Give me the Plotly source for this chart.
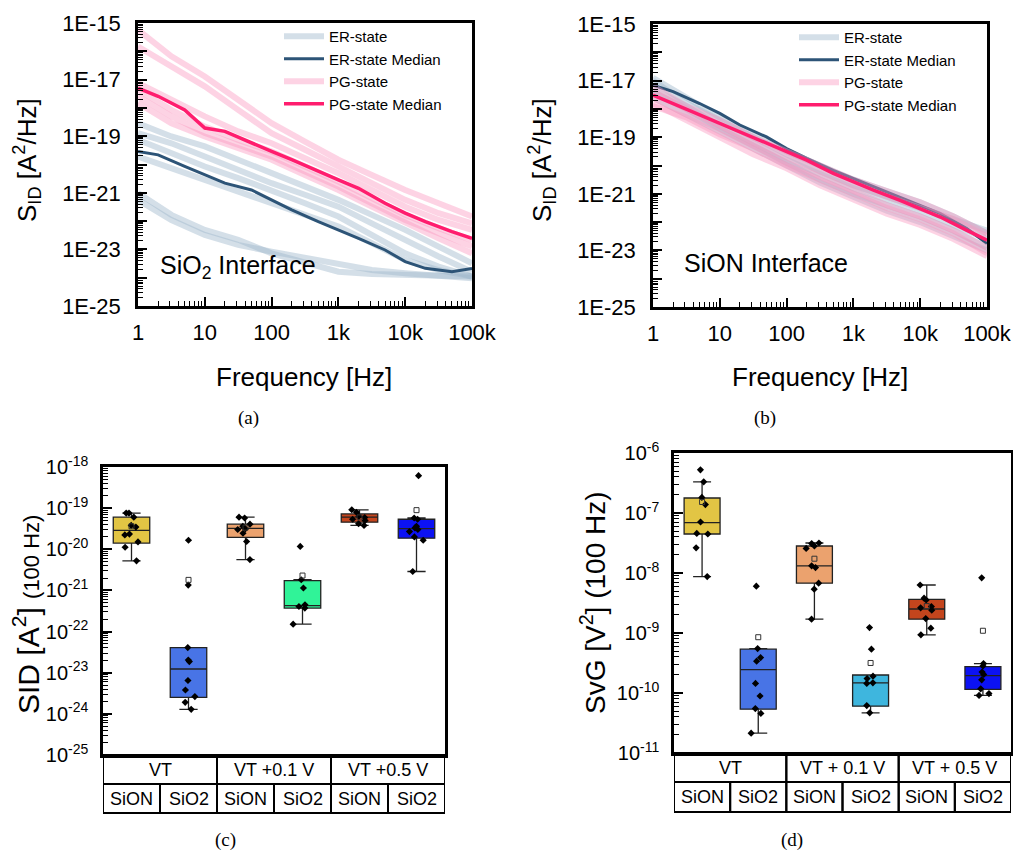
import numpy as np
import plotly.graph_objects as go

# ---------------- data: noise spectra (log10 of S_ID in A^2/Hz) ----------------
freq_med = [1, 2, 5, 10, 20, 50, 100, 200, 500, 1e3, 2e3, 5e3, 1e4, 2e4, 5e4, 1e5]
freq_lt = [1, 3.16, 10, 31.6, 100, 316, 1e3, 3.16e3, 1e4, 3.16e4, 1e5]

# panel (a) SiO2 interface
a_pg_median = [-17.30, -17.59, -18.07, -18.71, -18.83, -19.25, -19.54, -19.83, -20.25, -20.54,
               -20.84, -21.37, -21.72, -22.02, -22.37, -22.61]
a_er_median = [-19.54, -19.66, -20.07, -20.37, -20.66, -20.90, -21.25, -21.60, -22.02, -22.31,
               -22.61, -23.02, -23.43, -23.67, -23.79, -23.67]
a_pg_1 = [-15.24, -16.18, -16.89, -17.71, -18.54, -19.19, -19.83, -20.37, -20.90, -21.37, -21.84]
a_pg_2 = [-15.83, -16.53, -17.24, -18.07, -18.89, -19.48, -20.07, -20.66, -21.25, -21.72, -22.08]
a_pg_3 = [-17.12, -17.71, -18.30, -18.83, -19.25, -19.78, -20.31, -20.90, -21.49, -21.96, -22.31]
a_pg_4 = [-17.59, -18.30, -18.89, -19.30, -19.72, -20.25, -20.78, -21.37, -21.96, -22.43, -22.90]
a_pg_5 = [-17.83, -18.54, -19.01, -19.42, -19.83, -20.37, -20.90, -21.49, -22.08, -22.61, -23.14]
a_pg_6 = [-17.36, -18.07, -18.66, -19.13, -19.54, -20.07, -20.60, -21.19, -21.78, -22.25, -22.67]
a_er_1 = [-18.54, -19.01, -19.36, -19.83, -20.31, -20.78, -21.25, -21.78, -22.31, -22.90, -23.49]
a_er_2 = [-18.89, -19.25, -19.72, -20.19, -20.66, -21.07, -21.49, -22.08, -22.67, -23.25, -23.79]
a_er_3 = [-19.13, -19.60, -20.07, -20.48, -20.90, -21.37, -21.84, -22.49, -23.14, -23.61, -23.96]
a_er_4 = [-19.72, -20.13, -20.54, -20.96, -21.37, -21.78, -22.19, -22.78, -23.37, -23.73, -23.96]
a_er_5 = [-21.01, -21.78, -22.31, -22.66, -23.14, -23.49, -23.79, -23.87, -23.90, -23.94, -23.96]
a_er_6 = [-21.25, -21.96, -22.49, -22.84, -23.08, -23.31, -23.55, -23.73, -23.84, -23.92, -24.02]

# panel (b) SiON interface
b_pg_median = [-17.51, -17.81, -18.22, -18.51, -18.81, -19.22, -19.52, -19.81, -20.28, -20.58,
               -20.87, -21.23, -21.52, -21.82, -22.29, -22.64]
b_er_median = [-17.16, -17.39, -17.81, -18.16, -18.57, -18.99, -19.40, -19.75, -20.17, -20.46,
               -20.75, -21.11, -21.40, -21.70, -22.23, -22.76]
b_er_1 = [-16.9, -17.6, -18.3, -18.9, -19.5, -20.0, -20.5, -20.9, -21.3, -21.8, -22.4]
b_er_2 = [-17.3, -17.9, -18.6, -19.2, -19.8, -20.3, -20.8, -21.2, -21.6, -22.1, -22.6]
b_er_3 = [-17.6, -18.2, -18.8, -19.4, -20.0, -20.6, -21.1, -21.6, -22.0, -22.5, -23.0]
b_er_4 = [-17.0, -17.8, -18.4, -19.0, -19.6, -20.2, -20.7, -21.1, -21.5, -21.9, -22.3]
b_er_5 = [-17.4, -18.0, -18.7, -19.3, -19.9, -20.5, -21.0, -21.4, -21.8, -22.3, -22.9]
b_pg_1 = [-17.2, -17.9, -18.4, -19.0, -19.5, -20.0, -20.5, -20.9, -21.3, -21.8, -22.4]
b_pg_2 = [-17.6, -18.2, -18.7, -19.3, -19.9, -20.4, -20.9, -21.4, -21.8, -22.3, -22.9]
b_pg_3 = [-17.8, -18.4, -19.0, -19.6, -20.1, -20.7, -21.2, -21.7, -22.1, -22.6, -23.2]
b_pg_4 = [-17.4, -18.0, -18.6, -19.2, -19.7, -20.2, -20.7, -21.1, -21.5, -21.9, -22.5]
b_pg_5 = [-17.9, -18.3, -18.9, -19.4, -20.0, -20.5, -21.0, -21.5, -21.9, -22.4, -23.1]

# ---------------- data: box plots ----------------
groups = ["VT", "VT +0.1 V", "VT +0.5 V"]
groups_d = ["VT", "VT + 0.1 V", "VT + 0.5 V"]
interfaces = ["SiON", "SiO2", "SiON", "SiO2", "SiON", "SiO2"]
cats = ["VT SiON", "VT SiO2", "VT1 SiON", "VT1 SiO2", "VT5 SiON", "VT5 SiO2"]

# (c) SID at 100 Hz, log10 [A^2]
sid_pts = [
    [-19.12, -19.12, -19.22, -19.42, -19.46, -19.63, -19.65, -19.82, -19.95, -20.28],
    [-19.78, -20.87, -22.39, -22.69, -22.73, -23.19, -23.42, -23.58, -23.72, -23.89],
    [-19.22, -19.24, -19.39, -19.44, -19.50, -19.52, -19.61, -19.81, -20.25],
    [-19.93, -20.74, -20.94, -21.35, -21.39, -21.43, -21.82],
    [-19.04, -19.10, -19.20, -19.23, -19.27, -19.30, -19.38, -19.42],
    [-18.21, -19.24, -19.27, -19.44, -19.48, -19.52, -19.57, -19.70, -19.78, -20.54],
]
sid_q1 = [-19.85, -23.60, -19.71, -21.43, -19.34, -19.73]
sid_med = [-19.54, -22.91, -19.49, -21.37, -19.22, -19.50]
sid_q3 = [-19.22, -22.39, -19.39, -20.76, -19.14, -19.27]
sid_lo = [-20.28, -23.89, -20.25, -21.82, -19.42, -20.54]
sid_hi = [-19.12, -22.39, -19.22, -20.74, -19.04, -19.24]

# (d) SvG at 100 Hz, log10 [V^2]
svg_pts = [
    [-6.28, -6.48, -6.74, -6.86, -7.15, -7.34, -7.35, -7.58, -8.06],
    [-8.22, -9.26, -9.41, -9.47, -9.84, -10.05, -10.26, -10.34, -10.67],
    [-7.50, -7.51, -7.55, -7.59, -7.88, -7.91, -8.17, -8.27, -8.77],
    [-8.91, -9.27, -9.72, -9.76, -9.83, -9.84, -10.21, -10.33],
    [-8.20, -8.42, -8.45, -8.56, -8.58, -8.62, -8.76, -8.92, -9.03],
    [-8.08, -9.51, -9.55, -9.65, -9.69, -9.78, -9.93, -10.01, -10.04],
]
svg_q1 = [-7.35, -10.27, -8.17, -10.22, -8.77, -9.94]
svg_med = [-7.16, -9.61, -7.88, -9.83, -8.60, -9.71]
svg_q3 = [-6.75, -9.27, -7.55, -9.70, -8.44, -9.56]
svg_lo = [-8.06, -10.67, -8.77, -10.33, -9.03, -10.04]
svg_hi = [-6.48, -9.26, -7.50, -9.70, -8.20, -9.51]

colors_c = ["#e2c544", "#4874e6", "#eba26e", "#30f398", "#c4451d", "#0c12f4"]
colors_d = ["#e2c544", "#4874e6", "#eba26e", "#3eb6de", "#c4451d", "#0c12f4"]

top_y_vals = [10.0 ** e for e in range(-25, -14)]
top_y_text = ["1E-25", "", "1E-23", "", "1E-21", "", "1E-19", "", "1E-17", "", "1E-15"]
top_x_vals = [1, 10, 100, 1e3, 1e4, 1e5]
top_x_text = ["1", "10", "100", "1k", "10k", "100k"]
c_y_vals = [10.0 ** e for e in range(-25, -17)]
c_y_text = ["10<sup>%d</sup>" % e for e in range(-25, -17)]
d_y_vals = [10.0 ** e for e in range(-11, -5)]
d_y_text = ["10<sup>%d</sup>" % e for e in range(-11, -5)]

# ---------------- styling ----------------
SANS = "Liberation Sans, Arial, sans-serif"
SERIF = "Liberation Serif, Times New Roman, serif"
ER_LIGHT = "rgba(160,184,204,0.45)"
PG_LIGHT = "rgba(250,150,190,0.42)"
ER_DARK = "#2d5477"
PG_DARK = "#ff1d6e"
W, H = 1013, 853


def px(xp):
    return xp / W


def py(yp):
    return 1 - yp / H


fig = go.Figure()


def lin(v):
    return [10.0 ** e for e in v]


def add_spectra(xa, ya, leg, er_light, er_med, pg_light, pg_med):
    for i, c in enumerate(er_light):
        fig.add_trace(go.Scatter(x=freq_lt, y=lin(c), mode="lines", xaxis=xa, yaxis=ya,
                                 line=dict(color=ER_LIGHT, width=6), name="ER-state",
                                 legendgroup=leg + "er", showlegend=(i == 0), legend=leg))
    fig.add_trace(go.Scatter(x=freq_med, y=lin(er_med), mode="lines", xaxis=xa, yaxis=ya,
                             line=dict(color=ER_DARK, width=3), name="ER-state Median",
                             legend=leg))
    for i, c in enumerate(pg_light):
        fig.add_trace(go.Scatter(x=freq_lt, y=lin(c), mode="lines", xaxis=xa, yaxis=ya,
                                 line=dict(color=PG_LIGHT, width=6), name="PG-state",
                                 legendgroup=leg + "pg", showlegend=(i == 0), legend=leg))
    fig.add_trace(go.Scatter(x=freq_med, y=lin(pg_med), mode="lines", xaxis=xa, yaxis=ya,
                             line=dict(color=PG_DARK, width=3.5), name="PG-state Median",
                             legend=leg))


add_spectra("x", "y", "legend",
            [a_er_1, a_er_2, a_er_3, a_er_4, a_er_5, a_er_6], a_er_median,
            [a_pg_1, a_pg_2, a_pg_3, a_pg_4, a_pg_5, a_pg_6], a_pg_median)
add_spectra("x2", "y2", "legend2",
            [b_er_1, b_er_2, b_er_3, b_er_4, b_er_5], b_er_median,
            [b_pg_1, b_pg_2, b_pg_3, b_pg_4, b_pg_5], b_pg_median)


def add_boxes(xa, ya, pts, q1, med, q3, lo, hi, colors):
    for i in range(6):
        fig.add_trace(go.Box(x=[cats[i]], q1=[10 ** q1[i]], median=[10 ** med[i]],
                             q3=[10 ** q3[i]], lowerfence=[10 ** lo[i]],
                             upperfence=[10 ** hi[i]], xaxis=xa, yaxis=ya,
                             fillcolor=colors[i], line=dict(color="#222222", width=1.3),
                             width=0.64, whiskerwidth=0.5, boxpoints=False,
                             showlegend=False))
    xs, ys = [], []
    for i in range(6):
        xs += [cats[i]] * len(pts[i])
        ys += lin(pts[i])
    fig.add_trace(go.Box(x=xs, y=ys, xaxis=xa, yaxis=ya, boxpoints="all", jitter=0.55,
                         pointpos=0, fillcolor="rgba(0,0,0,0)",
                         line=dict(color="rgba(0,0,0,0)", width=0), width=0.64,
                         marker=dict(color="black", symbol="diamond", size=5.5),
                         showlegend=False))
    means = [float(np.mean(lin(p))) for p in pts]
    fig.add_trace(go.Scatter(x=cats, y=means, mode="markers", xaxis=xa, yaxis=ya,
                             marker=dict(symbol="square-open", size=5, color="#333333",
                                         line=dict(width=1)),
                             showlegend=False))


add_boxes("x3", "y3", sid_pts, sid_q1, sid_med, sid_q3, sid_lo, sid_hi, colors_c)
add_boxes("x4", "y4", svg_pts, svg_q1, svg_med, svg_q3, svg_lo, svg_hi, colors_d)

# ---------------- axes ----------------
frame = dict(showline=True, linewidth=2.5, linecolor="black", mirror=True,
             showgrid=False, zeroline=False, automargin=False)


def log_x(dom, anchor):
    return dict(domain=dom, anchor=anchor, type="log", range=[0, 5], tickmode="array",
                tickvals=top_x_vals, ticktext=top_x_text, ticks="inside", ticklen=9,
                tickwidth=1.5, tickcolor="black", ticklabelstandoff=5,
                tickfont=dict(family=SANS, size=22, color="black"),
                minor=dict(ticks="inside", ticklen=5, tickwidth=1.2, tickcolor="black",
                           dtick="D1", showgrid=False), **frame)


def log_y(dom, anchor, rng, vals, text, size, standoff):
    return dict(domain=dom, anchor=anchor, type="log", range=rng, tickmode="array",
                tickvals=vals, ticktext=text, ticks="inside", ticklen=9,
                tickwidth=1.5, tickcolor="black", ticklabelstandoff=standoff,
                tickfont=dict(family=SANS, size=size, color="black"),
                minor=dict(ticks="inside", ticklen=5, tickwidth=1.2, tickcolor="black",
                           dtick="D1", showgrid=False), **frame)


def cat_x(dom, anchor):
    return dict(domain=dom, anchor=anchor, type="category", categoryorder="array",
                categoryarray=cats, range=[-0.5, 5.5], showticklabels=False, ticks="",
                **frame)


ax_a = [px(138), px(472)]
ax_b = [px(653), px(987)]
ax_c = [px(103), px(445)]
ax_d = [px(674), px(1011)]

leg_style = dict(xanchor="left", yanchor="top", bgcolor="rgba(0,0,0,0)", tracegroupgap=0,
                 itemwidth=40, font=dict(family=SANS, size=15, color="black"))

fig.update_layout(
    width=W, height=H, margin=dict(l=0, r=0, t=0, b=0, autoexpand=False),
    paper_bgcolor="white", plot_bgcolor="white", boxmode="overlay",
    xaxis=log_x(ax_a, "y"),
    yaxis=log_y([py(306), py(23)], "x", [-25, -15], top_y_vals, top_y_text, 22, 10),
    xaxis2=log_x(ax_b, "y2"),
    yaxis2=log_y([py(307), py(24)], "x2", [-25, -15], top_y_vals, top_y_text, 22, 10),
    xaxis3=cat_x(ax_c, "y3"),
    yaxis3=log_y([py(755), py(467)], "x3", [-25, -18], c_y_vals, c_y_text, 20, 8),
    xaxis4=cat_x(ax_d, "y4"),
    yaxis4=log_y([py(753), py(453)], "x4", [-11, -6], d_y_vals, d_y_text, 20, 8),
    legend=dict(x=px(279), y=py(20), **leg_style),
    legend2=dict(x=px(794), y=py(21), **leg_style),
)

# ---------------- texts ----------------
ann = []


def text(x, y, s, size, family=SANS, angle=0, xanchor="center"):
    ann.append(dict(x=px(x), y=py(y), xref="paper", yref="paper", text=s, showarrow=False,
                    textangle=angle, xanchor=xanchor, yanchor="middle",
                    font=dict(family=family, size=size, color="black")))


text(304, 377, "Frequency [Hz]", 26)
text(820, 377, "Frequency [Hz]", 26)
text(27, 160, "S<sub>ID</sub> [A<sup>2</sup>/Hz]", 26, angle=-90)
text(542, 160, "S<sub>ID</sub> [A<sup>2</sup>/Hz]", 26, angle=-90)
text(158, 267, "SiO<sub>2</sub> Interface", 25, xanchor="left")
text(682, 263, "SiON Interface", 25, xanchor="left")
text(26, 615, "SID [A<sup>2</sup>] <span style='font-size:22px'>(100 Hz)</span>", 30, angle=-90)
text(593, 603, "SvG [V<sup>2</sup>] (100 Hz)", 28, angle=-90)
text(248, 418, "(a)", 19, family=SERIF)
text(765, 418, "(b)", 19, family=SERIF)
text(225, 840, "(c)", 19, family=SERIF)
text(792, 840, "(d)", 19, family=SERIF)

# ---------------- category tables ----------------
shapes = []


def table(xa, top, mid, bot, glabels):
    for g in range(3):
        shapes.append(dict(type="rect", xref=xa, yref="paper", x0=2 * g - 0.5, x1=2 * g + 1.5,
                           y0=py(mid), y1=py(top), line=dict(color="black", width=2)))
        ann.append(dict(x=2 * g + 0.5, y=py((top + mid) / 2), xref=xa, yref="paper",
                        text=glabels[g], showarrow=False, yanchor="middle",
                        font=dict(family=SANS, size=18, color="black")))
    for i in range(6):
        shapes.append(dict(type="rect", xref=xa, yref="paper", x0=i - 0.5, x1=i + 0.5,
                           y0=py(bot), y1=py(mid), line=dict(color="black", width=2)))
        ann.append(dict(x=i, y=py((mid + bot) / 2), xref=xa, yref="paper",
                        text=interfaces[i], showarrow=False, yanchor="middle",
                        font=dict(family=SANS, size=18, color="black")))


table("x3", 755, 784, 813, groups)
table("x4", 753, 782, 812, groups_d)

fig.update_layout(annotations=ann, shapes=shapes)
fig.write_html("out.html", config={"displayModeBar": False},
               post_script="document.body.style.margin='0px';"
                           "document.body.style.overflow='hidden';")
